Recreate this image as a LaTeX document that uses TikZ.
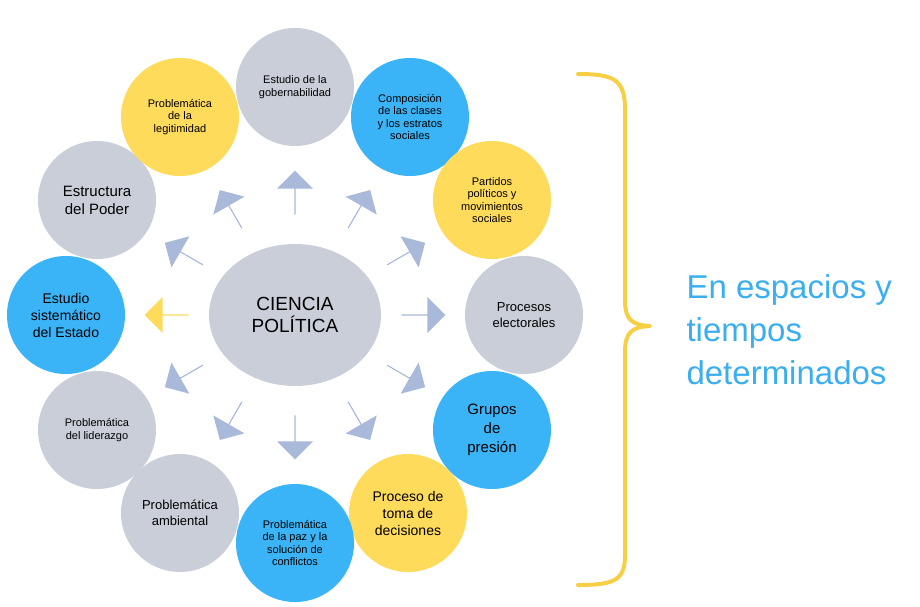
\documentclass[tikz,border=0pt]{standalone}
\usepackage{fontspec}
\setmainfont{Liberation Sans}
\usetikzlibrary{shapes.arrows,shapes.geometric,calc}
\definecolor{cgray}{HTML}{C9CED8}
\definecolor{cblue}{HTML}{3AB4F6}
\definecolor{cyel}{HTML}{FFDB5C}
\definecolor{carr}{HTML}{A9B9D9}
\definecolor{ctxt}{HTML}{3AAEEE}
\definecolor{cbrace}{HTML}{F6CF45}
\begin{document}
\begin{tikzpicture}[x=1pt,y=-1pt,
  circ/.style={circle,minimum size=118pt,inner sep=0pt,align=center,font=\fontsize{11}{12.5}\selectfont},
  arr/.style={single arrow,fill=carr,minimum width=36pt,minimum height=44pt,single arrow head extend=6pt,inner sep=0pt}]
\useasboundingbox (0,0) rectangle (920,606);
\node[ellipse,fill=cgray,minimum width=172pt,minimum height=142pt,align=center,font=\fontsize{19}{22}\selectfont] (c) at (295,315) {CIENCIA\\POLÍTICA};
\node[circ,fill=cgray] (n1) at (295,87) {Estudio de la\\gobernabilidad};
\node[circ,fill=cblue] (n2) at (410,117) {Composición\\de las clases\\y los estratos\\sociales};
\node[circ,fill=cyel] (n3) at (492,200) {Partidos\\políticos y\\movimientos\\sociales};
\node[circ,fill=cgray,font=\fontsize{13}{16}\selectfont] (n4) at (524,315) {Procesos\\electorales};
\node[circ,fill=cblue,font=\fontsize{15}{19}\selectfont] (n5) at (492,430) {Grupos\\de\\presión};
\node[circ,fill=cyel,font=\fontsize{14}{17}\selectfont] (n6) at (408,513) {Proceso de\\toma de\\decisiones};
\node[circ,fill=cblue] (n7) at (295,543) {Problemática\\de la paz y la\\solución de\\conflictos};
\node[circ,fill=cgray,font=\fontsize{13}{16}\selectfont] (n8) at (180,513) {Problemática\\ambiental};
\node[circ,fill=cgray] (n9) at (97,430) {Problemática\\del liderazgo};
\node[circ,fill=cblue,font=\fontsize{14}{17}\selectfont] (n10) at (66,315) {Estudio\\sistemático\\del Estado};
\node[circ,fill=cgray,font=\fontsize{15}{18}\selectfont] (n11) at (97,200) {Estructura\\del Poder};
\node[circ,fill=cyel] (n12) at (180,117) {Problemática\\de la\\legitimidad};
\foreach \a in {0,30,60,90,120,150,210,240,270,300,330}{
  \node[arr,rotate=\a] (a\a) at ($(295,315)+(\a:128 and -122)$) {};
}
\node[arr,fill=cyel,rotate=180] (a180) at ($(295,315)+(180:128 and -122)$) {};
\draw[cbrace,line width=4pt,line cap=round,line join=round]
 (578,74) .. controls (615,74) and (625,80) .. (625,110) -- (625,300)
 .. controls (625,320) and (632,325) .. (650,326)
 .. controls (632,327) and (625,332) .. (625,352) -- (625,555)
 .. controls (625,580) and (615,585) .. (578,585);
\node[anchor=west,align=left,text=ctxt,font=\fontsize{33}{43}\selectfont] (t) at (683,330) {En espacios y\\tiempos\\determinados};
\end{tikzpicture}
\end{document}
